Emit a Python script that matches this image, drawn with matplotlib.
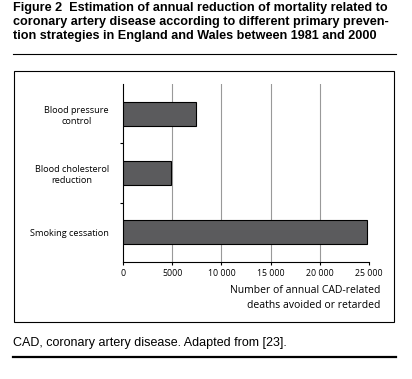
import matplotlib.pyplot as plt
from matplotlib.patches import Rectangle
from matplotlib.lines import Line2D

# data
strategies = ['Smoking cessation', 'Blood cholesterol\nreduction', 'Blood pressure\ncontrol']
deaths_avoided = [24750, 4850, 7400]
xticks = [0, 5000, 10000, 15000, 20000, 25000]
xtick_labels = ['0', '5000', '10 000', '15 000', '20 000', '25 000']

W, H = 412, 379
fig = plt.figure(figsize=(W / 100, H / 100), dpi=100)

# title
title = ('Figure 2  Estimation of annual reduction of mortality related to\n'
         'coronary artery disease according to different primary preven-\n'
         'tion strategies in England and Wales between 1981 and 2000')
fig.text(13 / W, 1 - 2 / H, title, ha='left', va='top', fontsize=9.1,
         fontweight='bold', family='Liberation Sans', linespacing=1.2)
fig.add_artist(Line2D([13 / W, 396 / W], [1 - 54 / H] * 2, color='black', lw=0.8))

# frame round the chart
fig.add_artist(Rectangle((14 / W, 1 - 322 / H), 380 / W, 251 / H, fill=False,
                         edgecolor='black', lw=0.8, transform=fig.transFigure))

ax = fig.add_axes([123 / W, 1 - 262 / H, 246 / W, 178 / H])
pos = list(range(len(strategies)))
ax.barh(pos, deaths_avoided, height=0.41, color='#5b5b5d', edgecolor='black',
        linewidth=0.8, zorder=3)
ax.set_xlim(0, 25000)
ax.set_ylim(-0.5, 2.5)

for x in xticks[1:-1]:
    ax.axvline(x, color='#999999', lw=0.8, zorder=1)

ax.set_xticks(xticks)
ax.set_xticklabels(xtick_labels, family='Open Sans', fontsize=6.3)
ax.tick_params(axis='x', length=2, width=0.8, pad=3)

ax.set_yticks([0.5, 1.5])
ax.set_yticklabels([])
ax.set_yticks(pos, minor=True)
ax.set_yticklabels(strategies, minor=True, family='Open Sans', fontsize=6.6,
                   multialignment='center', linespacing=1.35)
ax.tick_params(axis='y', which='major', length=2, width=0.8)
ax.tick_params(axis='y', which='minor', length=0, pad=10)

for side in ['top', 'right']:
    ax.spines[side].set_visible(False)
for side in ['left', 'bottom']:
    ax.spines[side].set_linewidth(0.8)

fig.text(380 / W, 1 - 285 / H, 'Number of annual CAD-related\ndeaths avoided or retarded',
         ha='right', va='top', family='Open Sans', fontsize=7.5, linespacing=1.45)

# caption
fig.text(13 / W, 1 - 343 / H, 'CAD, coronary artery disease. Adapted from [23].',
         ha='left', va='center', fontsize=9, family='Liberation Sans')
fig.add_artist(Line2D([13 / W, 396 / W], [1 - 357 / H] * 2, color='black', lw=1.6))

fig.savefig('out.png', dpi=100)
